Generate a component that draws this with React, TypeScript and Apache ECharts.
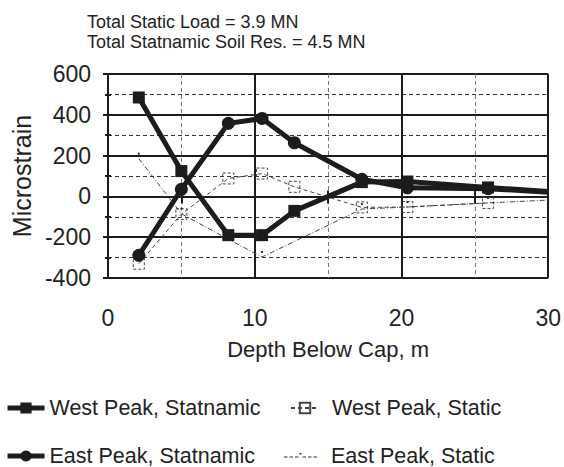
import React, { useEffect, useRef } from "react";
import * as echarts from "echarts";

const depths = [2.1, 5.0, 8.2, 10.5, 12.7, 17.3, 20.4, 25.9, 30];
const westStatnamic = [485, 124, -190, -190, -71, 70, 73, 44, 24];
const eastStatnamic = [-289, 35, 358, 382, 263, 84, 42, 38, 20];
const westStatic = [-330, -87, 88, 112, 47, -54, -52, -32, null];
const eastStatic = [185, -85, -210, -297, null, -62, -52, -32, -18];

const seriesNames = [
  "West Peak, Statnamic",
  "West Peak, Static",
  "East Peak, Statnamic",
  "East Peak, Static",
];
const titleLines = ["Total Static Load = 3.9 MN", "Total Statnamic Soil Res. = 4.5 MN"];
const xTitle = "Depth Below Cap, m";
const yTitle = "Microstrain";

const FONT = "'Liberation Sans', Arial, Helvetica, sans-serif";
const INK = "#1c1c1c";

// legend icon for the dash-dot series: dashes plus a small raised dot
const dashDotIcon =
  "path://M0,0h0.01v0.01h-0.01z M33,14h0.01v0.01h-0.01z " +
  "M0,7.5h3.5v1h-3.5z M5.5,7.5h3.5v1h-3.5z M11,7.5h3.5v1h-3.5z " +
  "M18.5,7.5h3.5v1h-3.5z M24,7.5h3.5v1h-3.5z M29.5,7.5h3.5v1h-3.5z " +
  "M15.5,4h2v1.5h-2z";

function pairs(values: (number | null)[], hideAt30: boolean) {
  const out: any[] = [];
  depths.forEach((d, i) => {
    const v = values[i];
    if (v === null || v === undefined) return;
    if (hideAt30 && d === 30) out.push({ value: [d, v], symbol: "none" });
    else out.push([d, v]);
  });
  return out;
}

export default function App() {
  const ref = useRef<HTMLDivElement>(null);
  useEffect(() => {
    if (!ref.current) return;
    const chart = echarts.init(ref.current, null, { renderer: "svg" });
    const axisCommonX = {
      type: "value",
      min: 0,
      max: 30,
      interval: 10,
      position: "bottom",
    };
    const axisCommonY = {
      type: "value",
      min: -400,
      max: 600,
      interval: 200,
      position: "left",
    };
    const legendText = { fontSize: 21.5, color: "#222", fontFamily: FONT };
    chart.setOption({
      animation: false,
      textStyle: { fontFamily: FONT },
      title: {
        text: titleLines.join("\n"),
        left: 87,
        top: 12,
        padding: 0,
        textStyle: {
          fontFamily: FONT,
          fontSize: 18,
          lineHeight: 20,
          fontWeight: "normal",
          color: "#222",
        },
      },
      grid: { left: 108, right: 11, top: 74, bottom: 189 },
      xAxis: [
        {
          ...axisCommonX,
          name: xTitle,
          nameLocation: "middle",
          nameGap: 60,
          nameTextStyle: { fontSize: 22, color: "#222", fontFamily: FONT },
          axisLine: { show: true, lineStyle: { color: INK, width: 2 } },
          axisTick: { show: true, length: 7, lineStyle: { color: INK, width: 2 } },
          minorTick: { show: true, splitNumber: 2, length: 7, lineStyle: { color: INK, width: 2 } },
          axisLabel: { fontSize: 23, color: "#222", margin: 28, fontFamily: FONT },
          splitLine: { show: true, lineStyle: { color: INK, width: 2 } },
          minorSplitLine: { show: true, lineStyle: { color: "#777", width: 1, type: [4, 3] } },
        },
        {
          ...axisCommonX,
          axisLine: { show: false },
          axisTick: { show: true, inside: true, length: 6, lineStyle: { color: INK, width: 2 } },
          minorTick: { show: true, splitNumber: 2, length: 6, lineStyle: { color: INK, width: 2 } },
          axisLabel: { show: false },
          splitLine: { show: false },
        },
      ],
      yAxis: [
        {
          ...axisCommonY,
          name: yTitle,
          nameLocation: "middle",
          nameGap: 74,
          nameRotate: 90,
          nameTextStyle: { fontSize: 25, color: "#222", fontFamily: FONT },
          axisLine: { show: true, lineStyle: { color: INK, width: 2 } },
          axisTick: { show: true, length: 5, lineStyle: { color: INK, width: 2 } },
          minorTick: { show: true, splitNumber: 2, length: 3, lineStyle: { color: INK, width: 2 } },
          axisLabel: { fontSize: 23, color: "#222", margin: 17, fontFamily: FONT },
          splitLine: { show: true, lineStyle: { color: INK, width: 2 } },
          minorSplitLine: { show: true, lineStyle: { color: "#333", width: 1, type: [4, 3] } },
        },
        {
          ...axisCommonY,
          axisLine: { show: false },
          axisTick: { show: true, inside: true, length: 4, lineStyle: { color: INK, width: 2 } },
          minorTick: { show: true, splitNumber: 2, length: 3, lineStyle: { color: INK, width: 2 } },
          axisLabel: { show: false },
          splitLine: { show: false },
        },
      ],
      legend: [
        {
          data: [seriesNames[0]],
          left: 5,
          top: 397,
          padding: 0,
          itemWidth: 37,
          itemHeight: 14,
          lineStyle: { width: 5 },
          textStyle: legendText,
        },
        {
          data: [seriesNames[1]],
          left: 290,
          top: 397,
          padding: 0,
          itemWidth: 28,
          itemHeight: 13,
          textStyle: { ...legendText, padding: [0, 0, 0, 8] },
        },
        {
          data: [seriesNames[2]],
          left: 5,
          top: 445,
          padding: 0,
          itemWidth: 37,
          itemHeight: 14,
          lineStyle: { width: 5 },
          textStyle: legendText,
        },
        {
          data: [{ name: seriesNames[3], icon: dashDotIcon }],
          left: 284,
          top: 445,
          padding: 0,
          itemWidth: 33,
          itemHeight: 14,
          textStyle: { ...legendText, padding: [0, 0, 0, 9] },
        },
      ],
      series: [
        {
          name: seriesNames[1],
          type: "line",
          data: pairs(westStatic, false),
          symbol: "rect",
          symbolSize: 11,
          lineStyle: { color: "#444", width: 1, type: [4, 3] },
          itemStyle: { color: "rgba(255,255,255,0)", borderColor: "#444", borderWidth: 1, borderType: [3, 2] },
          z: 3,
        },
        {
          name: seriesNames[3],
          type: "line",
          data: pairs(eastStatic, true),
          connectNulls: true,
          symbol: "rect",
          symbolSize: [2, 2],
          symbolOffset: [0, -5],
          lineStyle: { color: "#444", width: 1, type: [5, 2, 1, 2] },
          itemStyle: { color: "#333" },
          z: 3,
        },
        {
          name: seriesNames[0],
          type: "line",
          data: pairs(westStatnamic, true),
          symbol: "rect",
          symbolSize: 12,
          lineStyle: { color: INK, width: 5 },
          itemStyle: { color: INK },
          z: 5,
        },
        {
          name: seriesNames[2],
          type: "line",
          data: pairs(eastStatnamic, true),
          symbol: "circle",
          symbolSize: 13,
          lineStyle: { color: INK, width: 5 },
          itemStyle: { color: INK },
          z: 5,
        },
      ],
    });
    return () => chart.dispose();
  }, []);
  return <div ref={ref} style={{ width: 564, height: 467, position: "absolute", left: 0, top: 0 }} />;
}
